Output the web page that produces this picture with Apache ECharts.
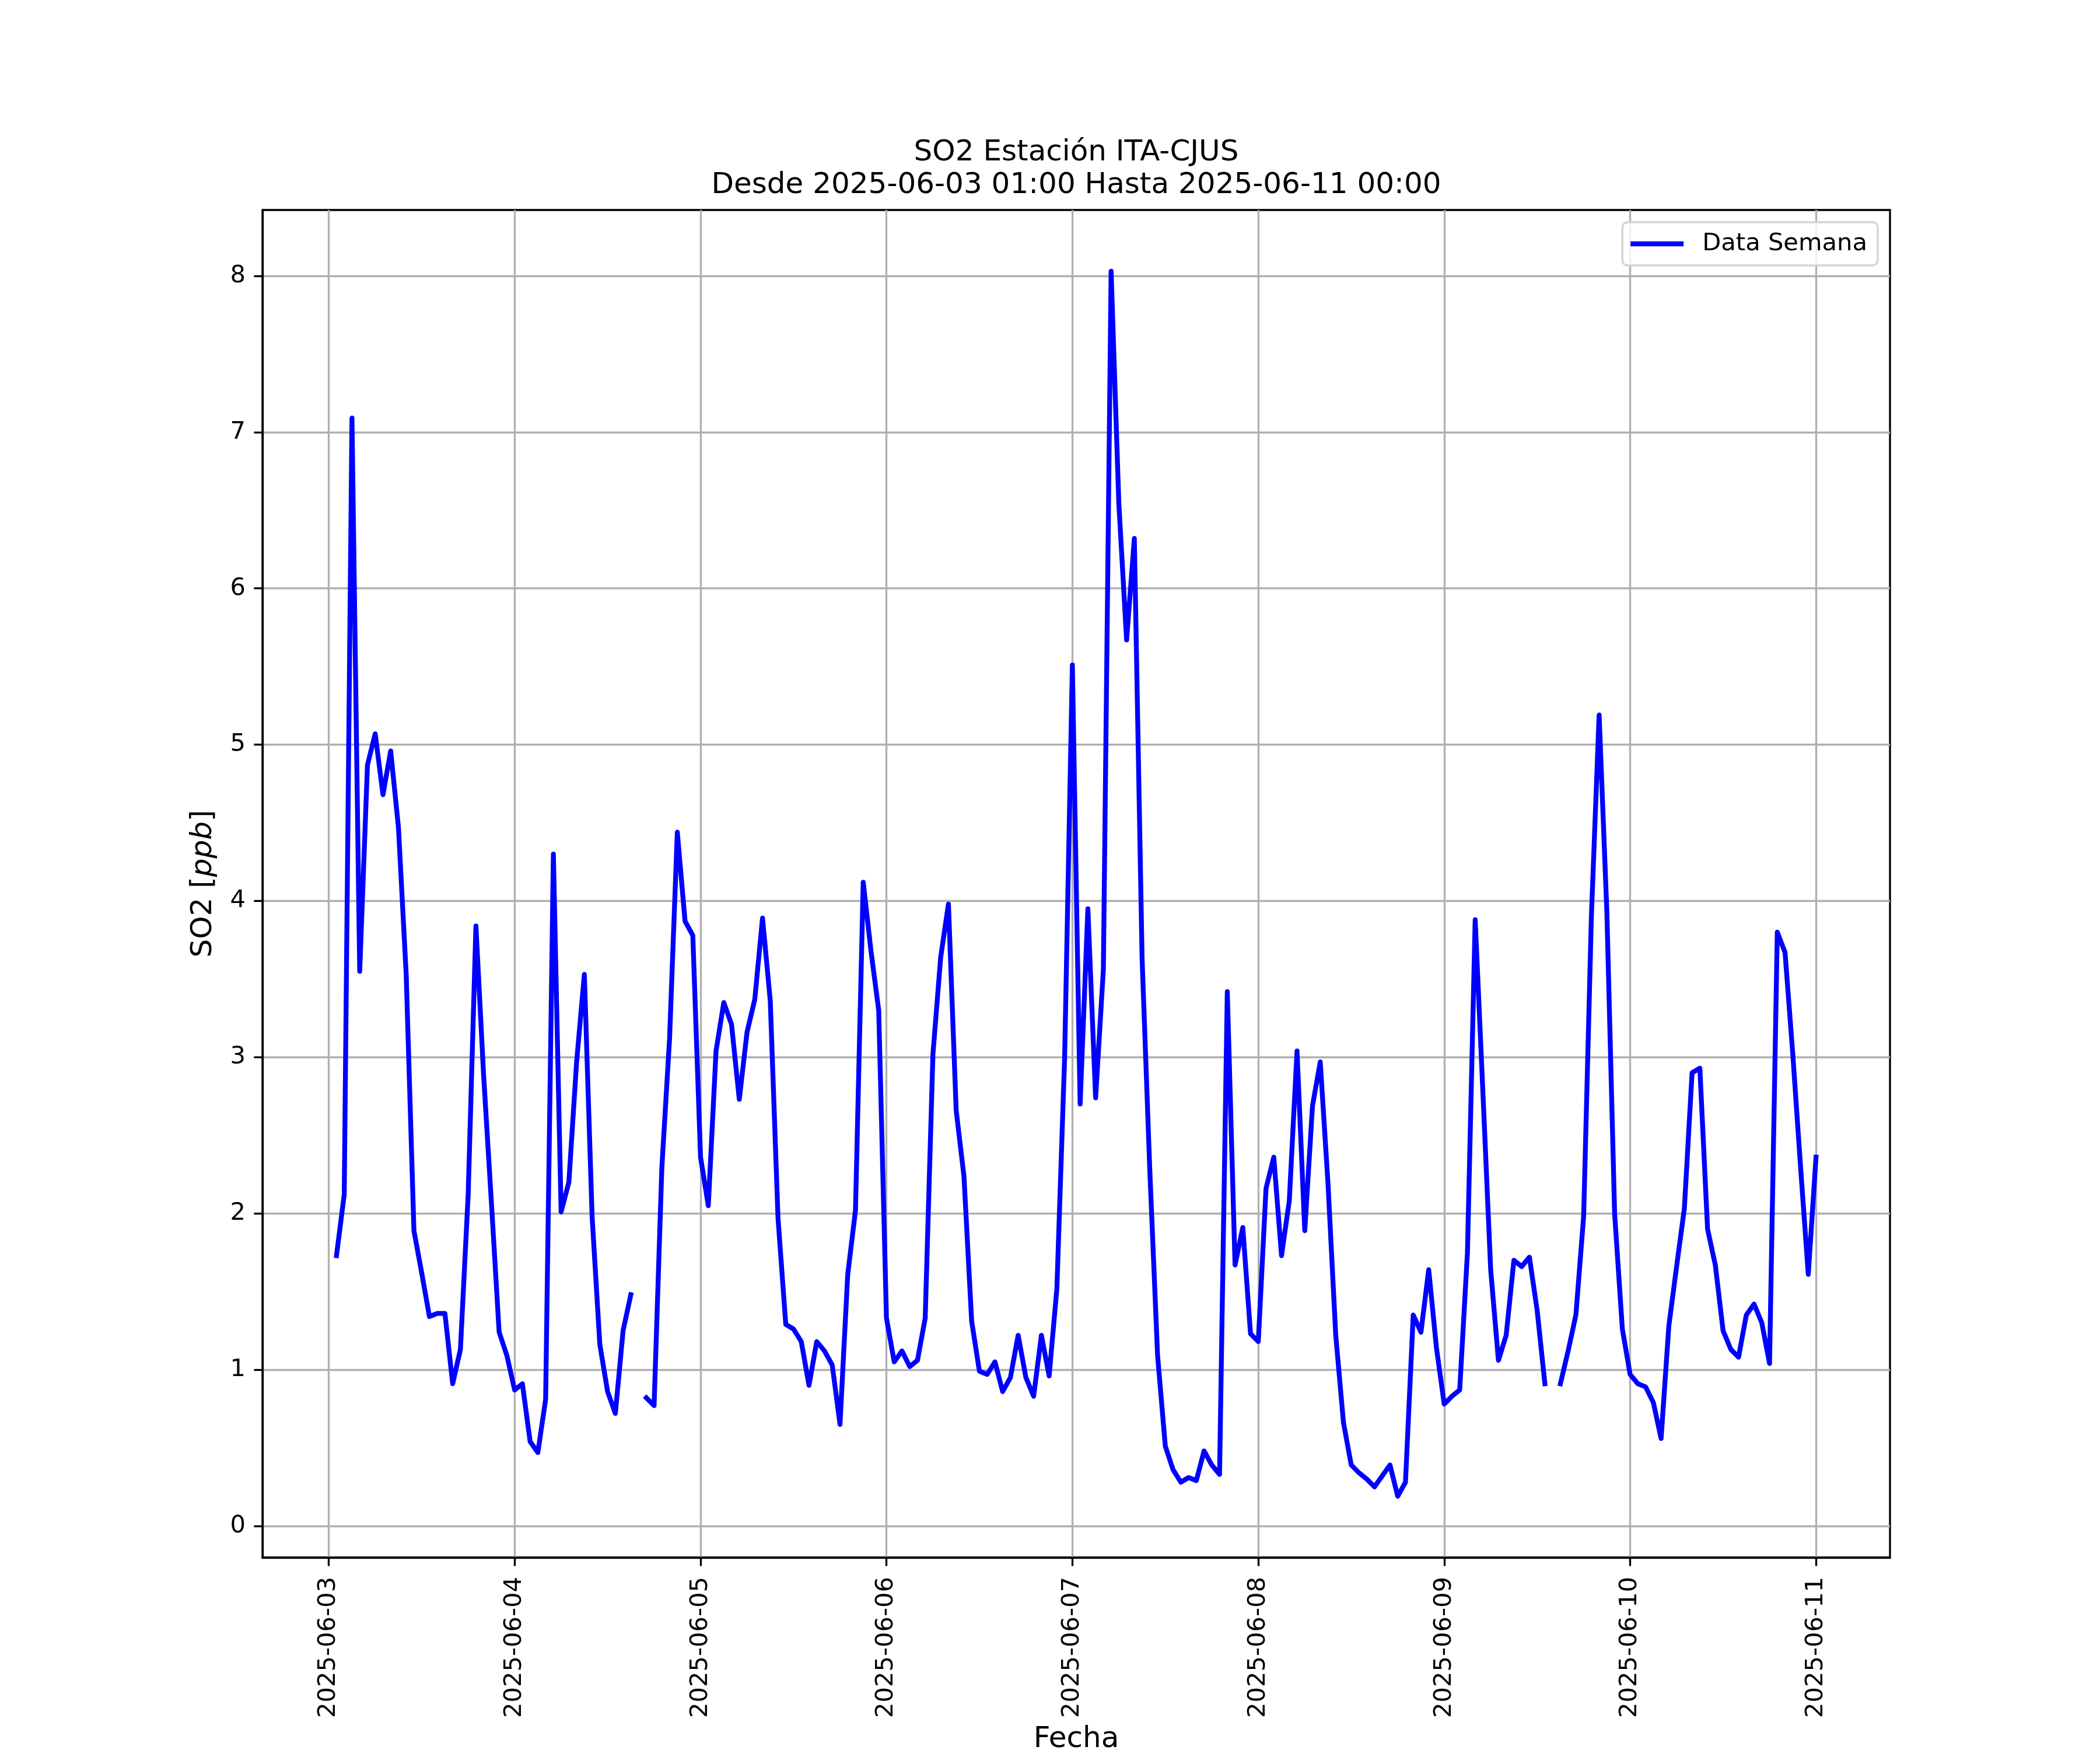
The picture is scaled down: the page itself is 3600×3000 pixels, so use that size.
<!DOCTYPE html>
<html>
<head>
<meta charset="utf-8">
<script src="https://cdn.jsdelivr.net/npm/echarts@6/dist/echarts.min.js"></script>
<style>
html,body{margin:0;padding:0;background:#ffffff;}
#chart{width:3600px;height:3000px;}
</style>
</head>
<body>
<div id="chart"></div>
<script>
// Hourly SO2 values (ppb), one array per day, from HH=01:00 to next day 00:00
const day0603 = [1.73, 2.12, 7.09, 3.55, 4.87, 5.07, 4.68, 4.96, 4.47, 3.53, 1.89, 1.62, 1.34, 1.36, 1.36, 0.91, 1.13, 2.12, 3.84, 2.88, 2.07, 1.24, 1.09, 0.87];
const day0604 = [0.91, 0.54, 0.47, 0.81, 4.30, 2.01, 2.20, 2.97, 3.53, 1.98, 1.16, 0.86, 0.72, 1.25, 1.48, null, 0.82, 0.77, 2.29, 3.12, 4.44, 3.87, 3.78, 2.36];
const day0605 = [2.05, 3.04, 3.35, 3.21, 2.73, 3.16, 3.37, 3.89, 3.36, 1.97, 1.29, 1.26, 1.18, 0.90, 1.18, 1.12, 1.03, 0.65, 1.61, 2.02, 4.12, 3.68, 3.30, 1.33];
const day0606 = [1.05, 1.12, 1.02, 1.06, 1.33, 3.02, 3.64, 3.98, 2.66, 2.24, 1.31, 0.99, 0.97, 1.05, 0.86, 0.95, 1.22, 0.95, 0.83, 1.22, 0.96, 1.52, 3.00, 5.51];
const day0607 = [2.70, 3.95, 2.74, 3.56, 8.03, 6.54, 5.67, 6.32, 3.63, 2.27, 1.09, 0.51, 0.36, 0.28, 0.31, 0.29, 0.48, 0.39, 0.33, 3.42, 1.67, 1.91, 1.23, 1.18];
const day0608 = [2.16, 2.36, 1.73, 2.08, 3.04, 1.89, 2.69, 2.97, 2.19, 1.22, 0.66, 0.39, 0.34, 0.30, 0.25, 0.32, 0.39, 0.19, 0.28, 1.35, 1.24, 1.64, 1.14, 0.78];
const day0609 = [0.83, 0.87, 1.75, 3.88, 2.77, 1.64, 1.06, 1.22, 1.70, 1.66, 1.72, 1.38, 0.91, null, 0.91, 1.12, 1.35, 1.98, 3.90, 5.19, 3.93, 2.00, 1.26, 0.97];
const day0610 = [0.91, 0.89, 0.79, 0.56, 1.28, 1.66, 2.03, 2.90, 2.93, 1.90, 1.67, 1.25, 1.13, 1.08, 1.35, 1.42, 1.30, 1.04, 3.80, 3.67, 3.02, 2.30, 1.61, 2.36];

const xTickLabels = ['2025-06-03','2025-06-04','2025-06-05','2025-06-06','2025-06-07','2025-06-08','2025-06-09','2025-06-10','2025-06-11'];
const yTicks = [0, 1, 2, 3, 4, 5, 6, 7, 8];

const titleLine1 = 'SO2 Estación ITA-CJUS';
const titleLine2 = 'Desde 2025-06-03 01:00 Hasta 2025-06-11 00:00';
const seriesName = 'Data Semana';

// build series: x = hours since 2025-06-03 00:00
const allValues = [].concat(day0603, day0604, day0605, day0606, day0607, day0608, day0609, day0610);
const seriesData = allValues.map((v, i) => [i + 1, v]);

// matplotlib-like 5% margins
const xs = seriesData.map(d => d[0]);
const xMinD = Math.min(...xs), xMaxD = Math.max(...xs);
const xPad = (xMaxD - xMinD) * 0.05;
const yVals = allValues.filter(v => v !== null);
const yMinD = Math.min(...yVals), yMaxD = Math.max(...yVals);
const yPad = (yMaxD - yMinD) * 0.05;

const FONT = 'DejaVu Sans';
const chart = echarts.init(document.getElementById('chart'), null, {renderer: 'canvas'});

const option = {
  animation: false,
  backgroundColor: '#ffffff',
  grid: {
    left: 450, top: 360, width: 2790, height: 2310,
    show: true, borderColor: '#000000', borderWidth: 3.33, backgroundColor: 'transparent',
    containLabel: false
  },
  legend: {
    show: true,
    data: [seriesName],
    right: 381, top: 381,
    padding: [16, 18, 16, 14],
    itemWidth: 91, itemHeight: 8.33,
    icon: 'rect',
    backgroundColor: 'rgba(255,255,255,0.8)',
    borderColor: '#d4d4d4', borderWidth: 3.5, borderRadius: 9,
    textStyle: {fontFamily: FONT, fontSize: 41.67, color: '#000000', padding: [0, 0, 0, 27]}
  },
  xAxis: {
    type: 'value',
    min: xMinD - xPad, max: xMaxD + xPad,
    axisLine: {show: true, onZero: false, lineStyle: {color: '#000000', width: 3.33}},
    axisTick: {show: true, length: 14.6, inside: false, lineStyle: {color: '#000000', width: 3.33},
               customValues: xTickLabels.map((_, i) => i * 24)},
    axisLabel: {show: true, rotate: 90, margin: 33, fontFamily: FONT, fontSize: 41.67, color: '#000000',
                customValues: xTickLabels.map((_, i) => i * 24),
                formatter: v => xTickLabels[Math.round(v / 24)] || ''},
    splitLine: {show: true, lineStyle: {color: '#b0b0b0', width: 3.33}}
  },
  yAxis: {
    type: 'value',
    min: yMinD - yPad, max: yMaxD + yPad,
    axisLine: {show: true, onZero: false, lineStyle: {color: '#000000', width: 3.33}},
    axisTick: {show: true, length: 14.6, inside: false, lineStyle: {color: '#000000', width: 3.33},
               customValues: yTicks},
    axisLabel: {show: true, margin: 29, fontFamily: FONT, fontSize: 41.67, color: '#000000',
                customValues: yTicks},
    splitLine: {show: true, lineStyle: {color: '#b0b0b0', width: 3.33}}
  },
  series: [{
    name: seriesName,
    type: 'line',
    data: seriesData,
    symbol: 'none',
    showSymbol: false,
    connectNulls: false,
    color: '#0000ff',
    lineStyle: {color: '#0000ff', width: 8.33, join: 'round', cap: 'square'},
    z: 3
  }],
  graphic: [
    {type: 'text', x: 1845, y: 262, z: 10,
     style: {text: titleLine1, fontFamily: FONT, fontSize: 50, fill: '#000000', align: 'center', verticalAlign: 'middle'}},
    {type: 'text', x: 1845, y: 318, z: 10,
     style: {text: titleLine2, fontFamily: FONT, fontSize: 50, fill: '#000000', align: 'center', verticalAlign: 'middle'}},
    {type: 'text', x: 1845, y: 2982, z: 10,
     style: {text: 'Fecha', fontFamily: FONT, fontSize: 50, fill: '#000000', align: 'center', verticalAlign: 'middle'}},
    {type: 'text', x: 349, y: 1515, rotation: Math.PI / 2, z: 10,
     style: {text: 'SO2 [{i|ppb}]', fontFamily: FONT, fontSize: 50, fill: '#000000', align: 'center', verticalAlign: 'middle',
             rich: {i: {fontFamily: FONT, fontSize: 50, fontStyle: 'italic', fill: '#000000'}}}}
  ]
};
chart.setOption(option);
</script>
</body>
</html>
